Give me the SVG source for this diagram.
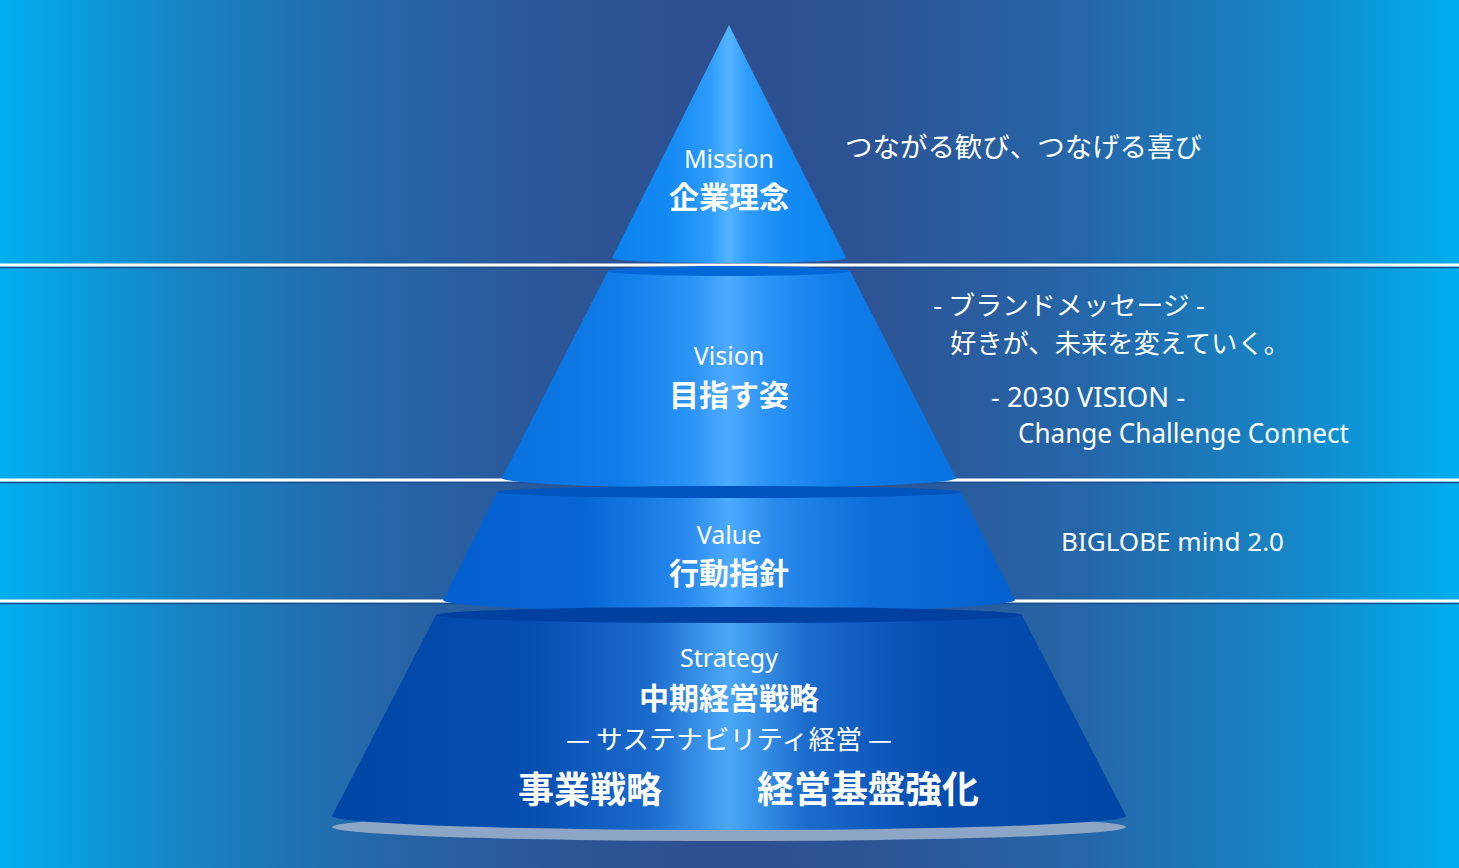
<svg xmlns="http://www.w3.org/2000/svg" width="1459" height="868" viewBox="0 0 1459 868">
<defs>
<linearGradient id="bg" x1="0" y1="0" x2="1" y2="0">
<stop offset="0" stop-color="#00AEEF"/>
<stop offset="0.13" stop-color="#1882C2"/>
<stop offset="0.26" stop-color="#2566A8"/>
<stop offset="0.4" stop-color="#2D5495"/>
<stop offset="0.5" stop-color="#2E4F8F"/>
<stop offset="0.6" stop-color="#2D5495"/>
<stop offset="0.74" stop-color="#2566A8"/>
<stop offset="0.87" stop-color="#1882C2"/>
<stop offset="1" stop-color="#00AEEF"/>
</linearGradient>
<linearGradient id="g1" x1="0" y1="0" x2="1" y2="0">
<stop offset="0" stop-color="#0A82EE"/>
<stop offset="0.25" stop-color="#148AF4"/>
<stop offset="0.42" stop-color="#2E9CFA"/>
<stop offset="0.5" stop-color="#55B4FF"/>
<stop offset="0.58" stop-color="#2E9CFA"/>
<stop offset="0.75" stop-color="#148AF4"/>
<stop offset="1" stop-color="#0884F0"/>
</linearGradient>
<linearGradient id="g2" x1="0" y1="0" x2="1" y2="0">
<stop offset="0" stop-color="#0872E0"/>
<stop offset="0.25" stop-color="#107CE8"/>
<stop offset="0.42" stop-color="#2C94F6"/>
<stop offset="0.5" stop-color="#4EAAFF"/>
<stop offset="0.58" stop-color="#2C94F6"/>
<stop offset="0.75" stop-color="#107CE8"/>
<stop offset="1" stop-color="#0872E0"/>
</linearGradient>
<linearGradient id="g3" x1="0" y1="0" x2="1" y2="0">
<stop offset="0" stop-color="#0460CE"/>
<stop offset="0.25" stop-color="#0866D4"/>
<stop offset="0.42" stop-color="#2688EC"/>
<stop offset="0.5" stop-color="#4CAAFF"/>
<stop offset="0.58" stop-color="#2A8AEC"/>
<stop offset="0.75" stop-color="#0E6CD8"/>
<stop offset="1" stop-color="#0462D0"/>
</linearGradient>
<linearGradient id="g4" x1="0" y1="0" x2="1" y2="0">
<stop offset="0" stop-color="#0046A6"/>
<stop offset="0.25" stop-color="#064EB0"/>
<stop offset="0.4" stop-color="#1A6ACC"/>
<stop offset="0.5" stop-color="#4AA8F6"/>
<stop offset="0.6" stop-color="#1A6ACC"/>
<stop offset="0.75" stop-color="#064EB0"/>
<stop offset="1" stop-color="#0046A6"/>
</linearGradient>
</defs>
<style>
.sep{stroke:#FFFFFF;stroke-width:3}
.sepd{stroke:#1E4D8C;stroke-width:1.5}
.lat{font-family:"Noto Sans","Noto Sans CJK JP",sans-serif;fill:#FFFFFF}
.jp{font-family:"Noto Sans CJK JP","Noto Sans",sans-serif;fill:#FFFFFF}
.bold{font-weight:700}
.mid{text-anchor:middle}
</style>
<rect x="0" y="0" width="1459" height="868" fill="url(#bg)"/>
<g id="separators">
<line class="sepd" x1="0" y1="267.5" x2="1459" y2="267.5"/>
<line class="sep" x1="0" y1="265" x2="1459" y2="265"/>
<line class="sepd" x1="0" y1="482.5" x2="1459" y2="482.5"/>
<line class="sep" x1="0" y1="480" x2="1459" y2="480"/>
<line class="sepd" x1="0" y1="603.5" x2="1459" y2="603.5"/>
<line class="sep" x1="0" y1="601" x2="1459" y2="601"/>
</g>
<g id="tier-mission">
<path d="M729,25 L612,258 A117,5 0 0 0 846,258 Z" fill="url(#g1)"/>
<text class="lat mid" x="729" y="168" font-size="25">Mission</text>
<text class="jp mid bold" x="729" y="208" font-size="30">企業理念</text>
</g>
<g id="tier-vision">
<path d="M608,271 L502,478 A227,10 0 0 0 956,478 L850,271 Z" fill="url(#g2)"/>
<ellipse cx="729" cy="271" rx="121" ry="5" fill="#0068D6"/>
<text class="lat mid" x="729" y="365" font-size="25">Vision</text>
<text class="jp mid bold" x="729" y="406" font-size="30">目指す姿</text>
</g>
<g id="tier-value">
<path d="M497,492 L443,600 A286,12 0 0 0 1015,600 L961,492 Z" fill="url(#g3)"/>
<ellipse cx="729" cy="492" rx="232" ry="6" fill="#0054BE"/>
<text class="lat mid" x="729" y="544" font-size="25">Value</text>
<text class="jp mid bold" x="729" y="584" font-size="30">行動指針</text>
</g>
<g id="tier-strategy">
<ellipse cx="729" cy="827" rx="397" ry="14" fill="#8DA6C6"/>
<path d="M436,615 L332,816 A397,14 0 0 0 1126,816 L1022,615 Z" fill="url(#g4)"/>
<ellipse cx="729" cy="615" rx="293" ry="8" fill="#0040A0"/>
<text class="lat mid" x="729" y="667" font-size="25">Strategy</text>
<text class="jp mid bold" x="729" y="709" font-size="30">中期経営戦略</text>
<text class="jp mid" x="729" y="749" font-size="26" textLength="326" lengthAdjust="spacingAndGlyphs">— サステナビリティ経営 —</text>
<text class="jp mid bold" x="590" y="803" font-size="36">事業戦略</text>
<text class="jp mid bold" x="868" y="803" font-size="37">経営基盤強化</text>
</g>
<g id="labels">
<text class="jp" x="845" y="157" font-size="27.5" textLength="357" lengthAdjust="spacingAndGlyphs">つながる歓び、つなげる喜び</text>
<text class="jp" x="933" y="315" font-size="26" textLength="272" lengthAdjust="spacingAndGlyphs">- ブランドメッセージ -</text>
<text class="jp" x="950" y="353" font-size="26.5" textLength="340" lengthAdjust="spacingAndGlyphs">好きが、未来を変えていく。</text>
<text class="lat" x="991" y="407" font-size="27" textLength="194" lengthAdjust="spacingAndGlyphs">- 2030 VISION -</text>
<text class="lat" x="1018" y="443" font-size="27" textLength="331" lengthAdjust="spacingAndGlyphs">Change Challenge Connect</text>
<text class="lat" x="1061" y="551" font-size="26" textLength="223" lengthAdjust="spacingAndGlyphs">BIGLOBE mind 2.0</text>
</g>
</svg>
